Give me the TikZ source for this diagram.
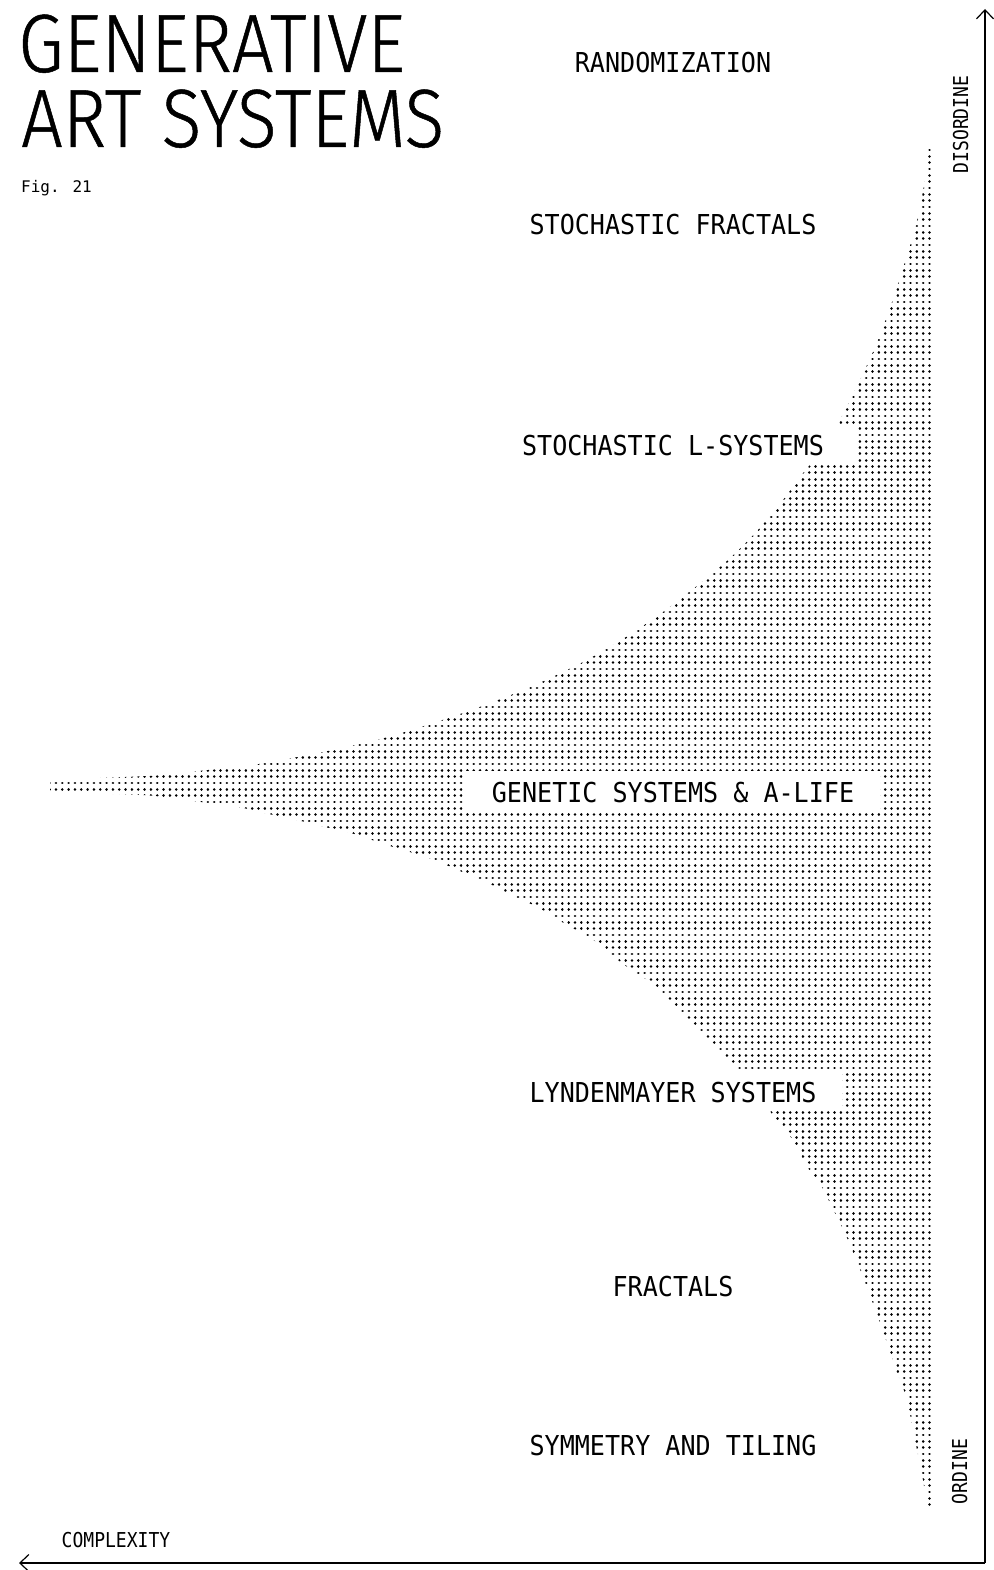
\documentclass[tikz,border=0pt]{standalone}
\usepackage{fontspec}
\newfontfamily\titlefont[FakeStretch=0.89, FakeBold=0.6]{Fira Sans Light}
\newfontfamily\labelfont[FakeStretch=0.915]{DejaVu Sans Mono}
\newfontfamily\axisfont[FakeStretch=0.88]{DejaVu Sans Mono}
\newfontfamily\figfont{DejaVu Sans Mono}
\usetikzlibrary{arrows.meta}
\tikzset{
        sysname/.style={
            font=\labelfont\fontsize{27.4}{30}\selectfont, fill=white, anchor=base,
            inner xsep=26pt, inner ysep=6pt, text height=25pt, text depth=3pt
        },
        axisname/.style={font=\axisfont\fontsize{20.5}{24}\selectfont, inner sep=0pt, anchor=base},
        titletext/.style={font=\titlefont\fontsize{82.7}{80}\selectfont, inner sep=0pt, anchor=base west},
        dotrow/.style={line width=2.7pt, line cap=round, dash pattern=on 0.01pt off 6.32pt},
        axis/.style={line width=1.2pt, -{Straight Barb[length=9pt, width=17pt]}},
}

\begin{document}
\begin{tikzpicture}[x=1pt, y=-1pt]
        \useasboundingbox (0,0) rectangle (993,1570);

        % HALFTONE WEDGE (rows of dots, clipped to the outline)
        \begin{scope}
            \clip plot[smooth, tension=0.5] coordinates {
                (929,144) (924,185) (916,225) (904,265) (891,305) (876,345) (860,380)
                (844,412) (826,445) (804,472) (783,500) (758,530) (728,560) (698,585)
                (663,612) (626,637) (583,662) (528,688) (463,713) (388,737) (323,752)
                (253,765) (208,770) (148,776) (58,779)}
                -- (50,779) -- (50,793) --
                plot[smooth, tension=0.5] coordinates {
                (58,793) (143,795) (193,801) (238,807) (269,814) (301,821) (325,827)
                (351,833) (390,846) (429,858) (460,871) (490,884) (516,897) (541,909)
                (562,922) (585,935) (604,947) (618,960) (636,973) (655,985) (667,998)
                (681,1011) (693,1023) (706,1036) (718,1048) (730,1061) (745,1078)
                (760,1097) (775,1118) (786,1130) (798,1149) (808,1168) (818,1181)
                (825,1193) (848,1240) (868,1290) (886,1340) (898,1375) (907,1400)
                (915,1440) (923,1480) (927,1507) (929,1512)}
                -- (934,1514) -- (934,140) -- cycle;
            \foreach \k in {-100,...,114}
                \draw[dotrow] (929.5,{783+6.33*\k}) -- (40,{783+6.33*\k});
        \end{scope}

        % TITLE
        \node[titletext] (title-a) at (18,72)  {GENERATIVE};
        \node[titletext] (title-b) at (21,147) {ART SYSTEMS};
        \node[font=\figfont\fontsize{16}{18}\selectfont, inner sep=0pt, anchor=base west]
            (fig) at (21,193) {Fig. 21};

        % SYSTEMS
        \node[sysname] (rand)    at (673,73)   {RANDOMIZATION};
        \node[sysname] (stfract) at (673,235)  {STOCHASTIC FRACTALS};
        \node[sysname, inner xsep=33pt] (stlsys) at (673,455) {STOCHASTIC L-SYSTEMS};
        \node[sysname] (genetic) at (673,802)  {GENETIC SYSTEMS \& A-LIFE};
        \node[sysname] (lsys)    at (673,1102) {LYNDENMAYER SYSTEMS};
        \node[sysname] (fract)   at (673,1296) {FRACTALS};
        \node[sysname] (symm)    at (673,1455) {SYMMETRY AND TILING};

        % AXES
        \coordinate (corner)   at (985,1563);
        \coordinate (top-end)  at (985,9);
        \coordinate (left-end) at (19,1563);
        \draw[axis] (corner) -- (top-end);
        \draw[axis] (corner) -- (left-end);
        \node[axisname, rotate=90] (disorder) at (968,124.5)  {DISORDINE};
        \node[axisname, rotate=90] (order)    at (967,1471.5) {ORDINE};
        \node[axisname] (complexity) at (116,1547) {COMPLEXITY};

\end{tikzpicture}
\end{document}
